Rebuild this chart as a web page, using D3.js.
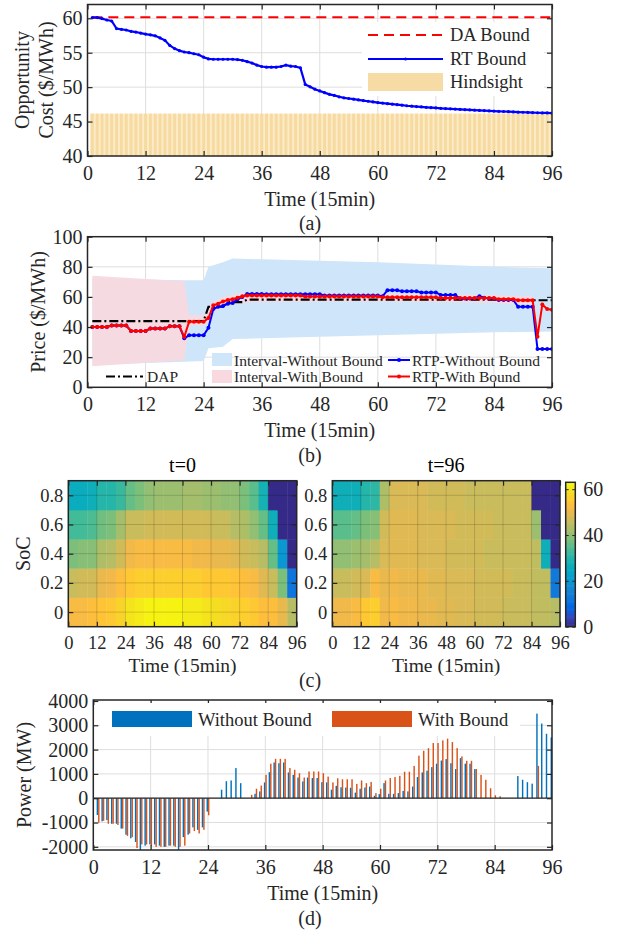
<!DOCTYPE html>
<html><head><meta charset="utf-8">
<script src="https://cdn.jsdelivr.net/npm/d3@7"></script>
<style>
body{margin:0;background:#fff}
svg{display:block}
</style></head>
<body><svg id="c" width="621" height="931"></svg>
<script>
// ================= DATA =================
const timeTicks = [0,12,24,36,48,60,72,84,96];
const steps = d3.range(1,97);

// (a) opportunity cost
const daBound = 60.15;
const hindsight = 46.15;
const rtBound = [60.1,60.1,59.95,59.75,59.6,58.5,58.4,58.3,58.1,58.0,
 57.85,57.7,57.6,57.45,57.15,56.8,56.05,55.6,55.3,55.1,
 55.0,54.85,54.7,54.35,54.1,54.05,54.05,54.05,54.05,54.05,
 54.0,53.9,53.7,53.5,53.2,53.0,52.9,52.9,52.9,53.0,
 53.2,53.05,53.0,52.8,50.4,50.05,49.7,49.45,49.2,48.95,
 48.8,48.6,48.45,48.35,48.25,48.15,48.05,47.95,47.85,47.76,
 47.68,47.6,47.52,47.45,47.38,47.3,47.24,47.18,47.12,47.07,
 47.02,46.98,46.93,46.89,46.85,46.81,46.77,46.73,46.69,46.65,
 46.62,46.58,46.55,46.52,46.49,46.46,46.43,46.4,46.37,46.35,
 46.33,46.3,46.28,46.26,46.25,46.24];
const aYTicks = [40,45,50,55,60];

// (b) prices
const dap = [44,44,44,44,44,44,44,44,44,44,44,44,44,44,44,44,44,44,44,44,44,44,44,44,
 53.5,53.5,53.5,53.5,56.5,56.5,56.5,56.5,
 58.2,58.2,58.2,58.2,58.2,58.2,58.2,58.2,58.2,58.2,58.2,58.2,58.2,58.2,58.2,58.2,58.2,58.2,58.2,58.2,
 58.2,58.2,58.2,58.2,58.2,58.2,58.2,58.2,58.2,58.2,58.2,58.2,58.2,58.2,58.2,58.2,58.2,58.2,58.2,58.2,
 58.2,58.2,58.2,58.2,58.2,58.2,58.2,58.2,58.2,58.2,58.2,58.2,58.2,58.2,58.2,58.2,
 57.8,57.8,57.8,57.8,57.8,57.8,57.8,57.8];
const rtpWithout = [40,40,40,40,41,41,41,41,37.4,37.4,37.4,37.4,39,39,39,39,40.5,40.5,40.5,32.5,
 34.5,34.5,34.5,34.5,39.5,52,53.5,54,55.5,56,58.5,60,
 62,62,62,62,61.8,61.8,61.8,61.8,61.8,61.8,61.8,61.8,61.8,61.8,61.8,61.8,
 61,61,61,61,61,61,61,61,61,61,61,61,
 60.5,64.5,64.5,64.5,63.8,63.8,63.8,63.8,63,63,63,63,61.3,61.3,61.3,61.3,59,59,59,59,
 60.5,59.5,59,59,58,58,58,58,53.5,53.5,53.5,53.5,25.5,25.5,25.5,25.5];
const rtpWith = [40,40,40,40,41,41,41,41,37.4,37.4,37.4,37.4,39,39,39,39,40.5,40.5,40.5,33.5,
 43.5,43.5,43.5,43.5,46,54.5,55.5,57,58,58.5,59.5,60.5,
 61,61,61,61,61,61,61,61,61,61,61,61,
 60.3,60.3,60.3,60.3,60.3,60.3,60.3,60.3,60.3,60.3,60.3,60.3,60.3,60.3,60.3,60.3,
 59.8,59.8,59.8,59.8,59.8,59.8,59.8,59.8,59.8,59.8,59.8,59.8,
 59.3,59.3,59.3,59.3,59.3,59.3,59.3,59.3,59.3,59.3,59.3,59.3,
 58.5,58.5,58.5,58.5,57.8,57.8,57.8,57.8,33.5,55,52,51.5];
const bandWithoutT  = [1,20,24,25,28,30,36,48,60,72,84,96];
const bandWithoutHi = [72,71,71,80,83,85.5,85,84,83,81.5,80,79];
const bandWithoutLo = [15,17,17.5,26,27,32,32.5,33.5,34.5,35.5,36.5,37];
const bandWithT  = [1,20,21,24,25,26,28,30,32,34,48,60,72,84,92];
const bandWithHi = [74,70.5,48,48,52,57,60,61.5,62.5,63,62.5,62,61.5,61,60.5];
const bandWithLo = [14,18,41,41,44,50,53,55,56,56.5,57,57,56.5,56,55];
const bYTicks = [0,20,40,60,80,100];

// (c) heatmaps: rows = SoC levels, 24 columns of 4 time steps
const socLevels = [0,0.2,0.4,0.6,0.8];
const heatT0 = [
 [52,52,53,54,55,57,60,61,62,62,62,62,61,61,60,59,58,57,56,55,53,53,50,44],
 [46,47,47,50,51,53,55,56,56,56,56,56,56,56,55,55,55,54,53,52,49,46,38,12],
 [38,39,39,43,44,47,51,52,52,52,52,52,52,51,51,50,50,49,47,46,44,36,20,0],
 [33,33,34,37,38,42,46,46,47,47,47,47,47,47,47,46,46,44,43,40,36,27,0,0],
 [26,26,27,30,30,32,36,38,40,41,41,41,42,42,41,41,40,40,38,35,28,0,0,0]];
const heatT96 = [
 [51,51,52,55,56,51,52,51,51,50,50,49,49,48,48,47,47,47,46,46,46,45,45,44],
 [46,46,47,48,52,50,51,50,50,50,49,49,48,48,48,47,47,47,47,46,46,45,45,13],
 [40,40,41,42,44,48,49,49,49,48,48,48,47,47,47,47,46,46,46,46,46,45,27,0],
 [35,35,36,38,39,47,49,49,49,48,48,48,48,47,47,47,47,46,46,46,46,41,0,0],
 [27,27,27,30,31,43,48,48,48,48,47,47,47,47,46,46,46,46,46,46,46,0,0,0]];
const colorMax = 63;
const cbTicks = [0,20,40,60];

// (d) power
const powerWithout = [-690,-950,-900,-1050,-1050,-1250,-1500,-1650,-1800,-2130,
 -1950,-1900,-1900,-1950,-2000,-1950,-1950,-2130,-1600,-1500,
 -1200,-1300,-1200,-550,0,0,350,700,730,1240,
 620,0,0,180,280,650,1070,1470,1440,1470,
 1060,960,850,690,850,830,830,660,650,350,
 510,450,440,430,230,390,440,480,100,170,
 620,180,180,210,300,280,480,870,1060,1130,
 1280,1420,1550,1610,1440,1200,1650,1420,1420,1200,
 0,0,0,0,0,0,0,0,910,760,
 660,600,3480,3070,2650,2500];
const powerWith = [-1000,-930,-1050,-1050,-1100,-1250,-1550,-1600,-2050,-1900,
 -1900,-1950,-2000,-2000,-2000,-1950,-2000,-2000,-1950,-1450,
 -1350,-1450,-1300,-700,0,0,0,0,0,0,
 0,0,140,390,520,960,1420,1620,1620,1620,
 1240,1170,1030,850,1100,1100,1100,1030,890,650,
 820,780,780,780,590,730,620,670,210,390,
 730,830,870,920,1090,1090,1330,1750,1950,2060,
 2270,2270,2380,2450,2310,2060,1720,1540,1540,1200,
 960,760,410,120,80,0,0,0,0,0,
 0,0,1330,0,0,0];
const dYTicks = [-2000,-1000,0,1000,2000,3000,4000];

// parula colormap (MATLAB)
const parula = [[0.2081,0.1663,0.5292],[0.2116,0.1898,0.5777],[0.2123,0.2138,0.6270],[0.2081,0.2386,0.6771],[0.1959,0.2645,0.7279],[0.1707,0.2919,0.7792],[0.1253,0.3242,0.8303],[0.0591,0.3598,0.8683],[0.0117,0.3875,0.8820],[0.0060,0.4086,0.8828],[0.0165,0.4266,0.8786],[0.0329,0.4430,0.8720],[0.0498,0.4586,0.8641],[0.0629,0.4737,0.8554],[0.0723,0.4887,0.8467],[0.0779,0.5040,0.8384],[0.0793,0.5200,0.8312],[0.0749,0.5375,0.8263],[0.0641,0.5570,0.8240],[0.0488,0.5772,0.8228],[0.0343,0.5966,0.8199],[0.0265,0.6137,0.8135],[0.0239,0.6287,0.8038],[0.0231,0.6418,0.7913],[0.0228,0.6535,0.7768],[0.0267,0.6642,0.7607],[0.0384,0.6743,0.7436],[0.0590,0.6838,0.7254],[0.0843,0.6928,0.7062],[0.1133,0.7015,0.6859],[0.1453,0.7098,0.6646],[0.1801,0.7177,0.6424],[0.2178,0.7250,0.6193],[0.2586,0.7317,0.5954],[0.3022,0.7376,0.5712],[0.3482,0.7424,0.5473],[0.3953,0.7459,0.5244],[0.4420,0.7481,0.5033],[0.4871,0.7491,0.4840],[0.5300,0.7491,0.4661],[0.5709,0.7485,0.4494],[0.6099,0.7473,0.4337],[0.6473,0.7456,0.4188],[0.6834,0.7435,0.4044],[0.7184,0.7411,0.3905],[0.7525,0.7384,0.3768],[0.7858,0.7356,0.3633],[0.8185,0.7327,0.3498],[0.8507,0.7299,0.3360],[0.8824,0.7274,0.3217],[0.9139,0.7258,0.3063],[0.9450,0.7261,0.2886],[0.9739,0.7314,0.2666],[0.9938,0.7455,0.2403],[0.9990,0.7653,0.2164],[0.9955,0.7861,0.1967],[0.9880,0.8066,0.1794],[0.9789,0.8271,0.1633],[0.9697,0.8481,0.1475],[0.9626,0.8705,0.1309],[0.9589,0.8949,0.1132],[0.9598,0.9218,0.0948],[0.9661,0.9514,0.0755],[0.9763,0.9831,0.0538]];

// ================= DRAWING =================
const FONT = '"Liberation Serif","Times New Roman",Times,serif';
const TXT = '#262626';
const svg = d3.select('#c');
const defs = svg.append('defs');
let clipN = 0;

function panel(p, x, y, o){
  const g = svg.append('g');
  const gridG = g.append('g'), dataG = g.append('g'), topG = g.append('g'), frameG = g.append('g');
  const id = 'clip' + (clipN++);
  defs.append('clipPath').attr('id', id).append('rect')
    .attr('x', p.x0).attr('y', p.yT).attr('width', p.x1 - p.x0).attr('height', p.yB - p.yT);
  dataG.attr('clip-path', `url(#${id})`);
  const gg = o.gridTop ? topG : gridG;
  if (o.grid){
    gg.selectAll('.gx').data(o.xt.filter(d => x(d) > p.x0 + 1 && x(d) < p.x1 - 1)).join('line')
      .attr('x1', d => x(d)).attr('x2', d => x(d)).attr('y1', p.yT).attr('y2', p.yB)
      .attr('stroke', o.gridColor || '#dedede').attr('stroke-width', 1);
    gg.selectAll('.gy').data(o.yt.filter(d => y(d) > p.yT + 1 && y(d) < p.yB - 1)).join('line')
      .attr('y1', d => y(d)).attr('y2', d => y(d)).attr('x1', p.x0).attr('x2', p.x1)
      .attr('stroke', o.gridColor || '#dedede').attr('stroke-width', 1);
  }
  const fs = o.fs || 20;
  const style = s => s.attr('font-family', FONT).attr('font-size', fs).attr('color', TXT)
    .call(t => t.select('.domain').remove());
  frameG.append('g').attr('transform', `translate(0,${p.yB})`)
    .call(d3.axisBottom(x).tickValues(o.xt).tickSize(-5).tickPadding(o.xpad || 10).tickFormat(d => String(d))).call(style);
  frameG.append('g').attr('transform', `translate(0,${p.yT})`)
    .call(d3.axisTop(x).tickValues(o.xt).tickSize(-5).tickFormat('')).call(style);
  frameG.append('g').attr('transform', `translate(${p.x0},0)`)
    .call(d3.axisLeft(y).tickValues(o.yt).tickSize(-5).tickPadding(5).tickFormat(o.yf || (d => String(d)))).call(style);
  frameG.append('g').attr('transform', `translate(${p.x1},0)`)
    .call(d3.axisRight(y).tickValues(o.yt).tickSize(-5).tickFormat('')).call(style);
  frameG.selectAll('.tick line').attr('stroke-width', 1.2);
  frameG.append('rect').attr('x', p.x0).attr('y', p.yT).attr('width', p.x1 - p.x0).attr('height', p.yB - p.yT)
    .attr('fill', 'none').attr('stroke', TXT).attr('stroke-width', 1.5);
  return {dataG, topG, frameG};
}
function text(x, y, s, o = {}){
  const t = svg.append('text').attr('x', x).attr('y', y).text(s)
    .attr('font-family', FONT).attr('font-size', o.fs || 20).attr('fill', o.fill || TXT)
    .attr('text-anchor', o.anchor || 'middle').attr('dominant-baseline', 'central');
  if (o.rot) t.attr('transform', `rotate(${o.rot},${x},${y})`);
  return t;
}

// ---------- (a) ----------
{
  const p = {x0: 87.5, x1: 552, yT: 4.5, yB: 156};
  const x = d3.scaleLinear().domain([0, 96]).range([p.x0, p.x1]);
  const y = d3.scaleLinear().domain([40, 62]).range([p.yB, p.yT]);
  const {dataG} = panel(p, x, y, {xt: timeTicks, yt: aYTicks, grid: true});
  dataG.append('rect').attr('x', x(0.5)).attr('y', y(hindsight)).attr('width', x(96) - x(0.5))
    .attr('height', y(40) - y(hindsight)).attr('fill', '#fbebc8');
  dataG.selectAll('.hb').data(steps).join('rect')
    .attr('x', d => x(d - 0.3)).attr('width', x(0.6) - x(0)).attr('y', y(hindsight))
    .attr('height', y(40) - y(hindsight)).attr('fill', '#f6da9f');
  dataG.append('line').attr('x1', x(1)).attr('x2', x(96)).attr('y1', y(daBound)).attr('y2', y(daBound))
    .attr('stroke', '#ff0000').attr('stroke-width', 2.2).attr('stroke-dasharray', '10,6');
  const ln = d3.line().x((d, i) => x(steps[i])).y(d => y(d));
  dataG.append('path').attr('d', ln(rtBound)).attr('fill', 'none').attr('stroke', '#0000ff').attr('stroke-width', 2.2);
  dataG.selectAll('.rm').data(rtBound).join('circle').attr('cx', (d, i) => x(steps[i])).attr('cy', d => y(d))
    .attr('r', 1.6).attr('fill', '#0000ff');
  // legend
  svg.append('rect').attr('x', 362).attr('y', 22).attr('width', 182).attr('height', 74).attr('fill', '#fff');
  svg.append('line').attr('x1', 368).attr('x2', 443).attr('y1', 35).attr('y2', 35)
    .attr('stroke', '#ff0000').attr('stroke-width', 2.2).attr('stroke-dasharray', '10,6');
  svg.append('line').attr('x1', 368).attr('x2', 443).attr('y1', 59).attr('y2', 59)
    .attr('stroke', '#0000ff').attr('stroke-width', 2.2);
  svg.append('circle').attr('cx', 405.5).attr('cy', 59).attr('r', 1.6).attr('fill', '#0000ff');
  svg.append('rect').attr('x', 368).attr('y', 73).attr('width', 75).attr('height', 18).attr('fill', '#f6dca4');
  text(450, 35, 'DA Bound', {anchor: 'start', fs: 18.5});
  text(450, 59, 'RT Bound', {anchor: 'start', fs: 18.5});
  text(450, 82, 'Hindsight', {anchor: 'start', fs: 18.5});
  text(21.5, 80, 'Opportunity', {rot: -90});
  text(46, 80, 'Cost ($/MWh)', {rot: -90});
  text((p.x0 + p.x1) / 2, 199, 'Time (15min)');
  text(310, 223, '(a)');
}

// ---------- (b) ----------
{
  const p = {x0: 87.5, x1: 552, yT: 236.7, yB: 387.3};
  const x = d3.scaleLinear().domain([0, 96]).range([p.x0, p.x1]);
  const y = d3.scaleLinear().domain([0, 100]).range([p.yB, p.yT]);
  const {dataG} = panel(p, x, y, {xt: timeTicks, yt: bYTicks, grid: true});
  const areaB = d3.area().x((d, i) => x(bandWithoutT[i])).y0((d, i) => y(bandWithoutLo[i])).y1(d => y(d));
  dataG.append('path').attr('d', areaB(bandWithoutHi)).attr('fill', '#cfe5fa');
  const areaP = d3.area().x((d, i) => x(bandWithT[i])).y0((d, i) => y(bandWithLo[i])).y1(d => y(d));
  dataG.append('path').attr('d', areaP(bandWithHi)).attr('fill', '#f8d9df').attr('opacity', 0.95);
  const ln = d3.line().x((d, i) => x(steps[i])).y(d => y(d));
  dataG.append('path').attr('d', ln(dap)).attr('fill', 'none').attr('stroke', '#000')
    .attr('stroke-width', 2.2).attr('stroke-dasharray', '9,3,2,3');
  [[rtpWithout, '#0000ff'], [rtpWith, '#ff0000']].forEach(([arr, c]) => {
    dataG.append('path').attr('d', ln(arr)).attr('fill', 'none').attr('stroke', c).attr('stroke-width', 2);
    dataG.append('g').selectAll('circle').data(arr).join('circle')
      .attr('cx', (d, i) => x(steps[i])).attr('cy', d => y(d)).attr('r', 2).attr('fill', c);
  });
  // legend
  const L = svg.append('g');
  L.append('line').attr('x1', 106).attr('x2', 143).attr('y1', 376.5).attr('y2', 376.5)
    .attr('stroke', '#000').attr('stroke-width', 2.2).attr('stroke-dasharray', '9,3,2,3');
  text(147, 376.5, 'DAP', {anchor: 'start', fs: 15.5});
  L.append('rect').attr('x', 212).attr('y', 353).attr('width', 20).attr('height', 13).attr('fill', '#cfe5fa');
  text(234, 360, 'Interval-Without Bound', {anchor: 'start', fs: 15.5});
  L.append('rect').attr('x', 212).attr('y', 370).attr('width', 20).attr('height', 13).attr('fill', '#f8d9df');
  text(234, 376.5, 'Interval-With Bound', {anchor: 'start', fs: 15.5});
  [[360, '#0000ff', 'RTP-Without Bound'], [376.5, '#ff0000', 'RTP-With Bound']].forEach(([yy, c, s]) => {
    L.append('line').attr('x1', 388).attr('x2', 410).attr('y1', yy).attr('y2', yy).attr('stroke', c).attr('stroke-width', 2);
    L.append('circle').attr('cx', 399).attr('cy', yy).attr('r', 2).attr('fill', c);
    text(412, yy, s, {anchor: 'start', fs: 15.5});
  });
  text(37.5, (p.yT + p.yB) / 2, 'Price ($/MWh)', {rot: -90});
  text((p.x0 + p.x1) / 2, 430, 'Time (15min)');
  text(310, 455, '(b)');
}

// ---------- (c) ----------
const cscale = d3.scaleLinear()
  .domain(parula.map((c, i) => i / (parula.length - 1) * colorMax))
  .range(parula.map(c => d3.rgb(c[0] * 255, c[1] * 255, c[2] * 255).toString()))
  .interpolate(d3.interpolateRgb).clamp(true);
function heat(p, data, title){
  const x = d3.scaleLinear().domain([0, 96]).range([p.x0, p.x1]);
  const y = d3.scaleLinear().domain([-0.1, 0.9]).range([p.yB, p.yT]);
  const {dataG} = panel(p, x, y, {xt: timeTicks, yt: socLevels, grid: true, gridTop: true, fs: 18.5, xpad: 9,
    gridColor: 'rgba(0,0,0,0.16)', yf: d => d === 0 ? '0' : d3.format('.1f')(d)});
  const cells = [];
  data.forEach((row, r) => row.forEach((v, k) => cells.push({r, k, v})));
  dataG.selectAll('rect').data(cells).join('rect')
    .attr('x', d => x(d.k * 4)).attr('width', x(4) - x(0) + 0.4)
    .attr('y', d => y(socLevels[d.r] + 0.1)).attr('height', y(0) - y(0.2) + 0.4)
    .attr('fill', d => cscale(d.v));
  text((p.x0 + p.x1) / 2, 465, title, {fill: '#000'});
  text((p.x0 + p.x1) / 2, 665, 'Time (15min)', {fs: 19.5});
}
heat({x0: 68.3, x1: 296.7, yT: 480.7, yB: 626.7}, heatT0, 't=0');
heat({x0: 332.3, x1: 560, yT: 480.7, yB: 626.7}, heatT96, 't=96');
{
  const p = {x0: 565.7, x1: 575.3, yT: 482.3, yB: 626.7};
  const y = d3.scaleLinear().domain([0, colorMax]).range([p.yB, p.yT]);
  const g = svg.append('g');
  const bands = d3.range(0, colorMax, colorMax / 126);
  g.selectAll('rect').data(bands).join('rect').attr('x', p.x0).attr('width', p.x1 - p.x0)
    .attr('y', d => y(d + colorMax / 126) - 0.3).attr('height', y(0) - y(colorMax / 126) + 0.6)
    .attr('fill', d => cscale(d + colorMax / 252));
  g.append('g').attr('transform', `translate(${p.x1},0)`)
    .call(d3.axisRight(y).tickValues(cbTicks).tickSize(-3).tickPadding(8))
    .attr('font-family', FONT).attr('font-size', 20).attr('color', TXT).call(s => s.select('.domain').remove());
  g.append('g').attr('transform', `translate(${p.x0},0)`)
    .call(d3.axisLeft(y).tickValues(cbTicks).tickSize(-3).tickFormat(''))
    .attr('color', TXT).call(s => s.select('.domain').remove());
  g.append('rect').attr('x', p.x0).attr('y', p.yT).attr('width', p.x1 - p.x0).attr('height', p.yB - p.yT)
    .attr('fill', 'none').attr('stroke', TXT).attr('stroke-width', 1.5);
  text(23, 553.7, 'SoC', {rot: -90});
  text(310, 680, '(c)');
}

// ---------- (d) ----------
{
  const p = {x0: 93.3, x1: 552, yT: 700, yB: 850};
  const x = d3.scaleLinear().domain([0, 96]).range([p.x0, p.x1]);
  const y = d3.scaleLinear().domain([-2130, 4040]).range([p.yB, p.yT]);
  const {dataG} = panel(p, x, y, {xt: timeTicks, yt: dYTicks, grid: true});
  const bw = x(0.3) - x(0);
  dataG.selectAll('.bw').data(powerWithout).join('rect')
    .attr('x', (d, i) => x(steps[i] - 0.3)).attr('width', bw)
    .attr('y', d => y(Math.max(0, d))).attr('height', d => Math.abs(y(d) - y(0)))
    .attr('fill', '#0072bd');
  dataG.selectAll('.bo').data(powerWith).join('rect')
    .attr('x', (d, i) => x(steps[i])).attr('width', bw)
    .attr('y', d => y(Math.max(0, d))).attr('height', d => Math.abs(y(d) - y(0)))
    .attr('fill', '#d95319');
  dataG.append('line').attr('x1', p.x0).attr('x2', p.x1).attr('y1', y(0)).attr('y2', y(0))
    .attr('stroke', '#262626').attr('stroke-width', 1.2);
  // legend
  svg.append('rect').attr('x', 100).attr('y', 703).attr('width', 420).attr('height', 33).attr('fill', '#fff');
  svg.append('rect').attr('x', 112).attr('y', 711).attr('width', 80).attr('height', 16).attr('fill', '#0072bd');
  text(198, 719.5, 'Without Bound', {anchor: 'start', fs: 18.5});
  svg.append('rect').attr('x', 332).attr('y', 711).attr('width', 80).attr('height', 16).attr('fill', '#d95319');
  text(418, 719.5, 'With Bound', {anchor: 'start', fs: 18.5});
  text(24, (p.yT + p.yB) / 2, 'Power (MW)', {rot: -90});
  text((p.x0 + p.x1) / 2, 893, 'Time (15min)');
  text(310, 918, '(d)');
}
</script>
</body></html>
